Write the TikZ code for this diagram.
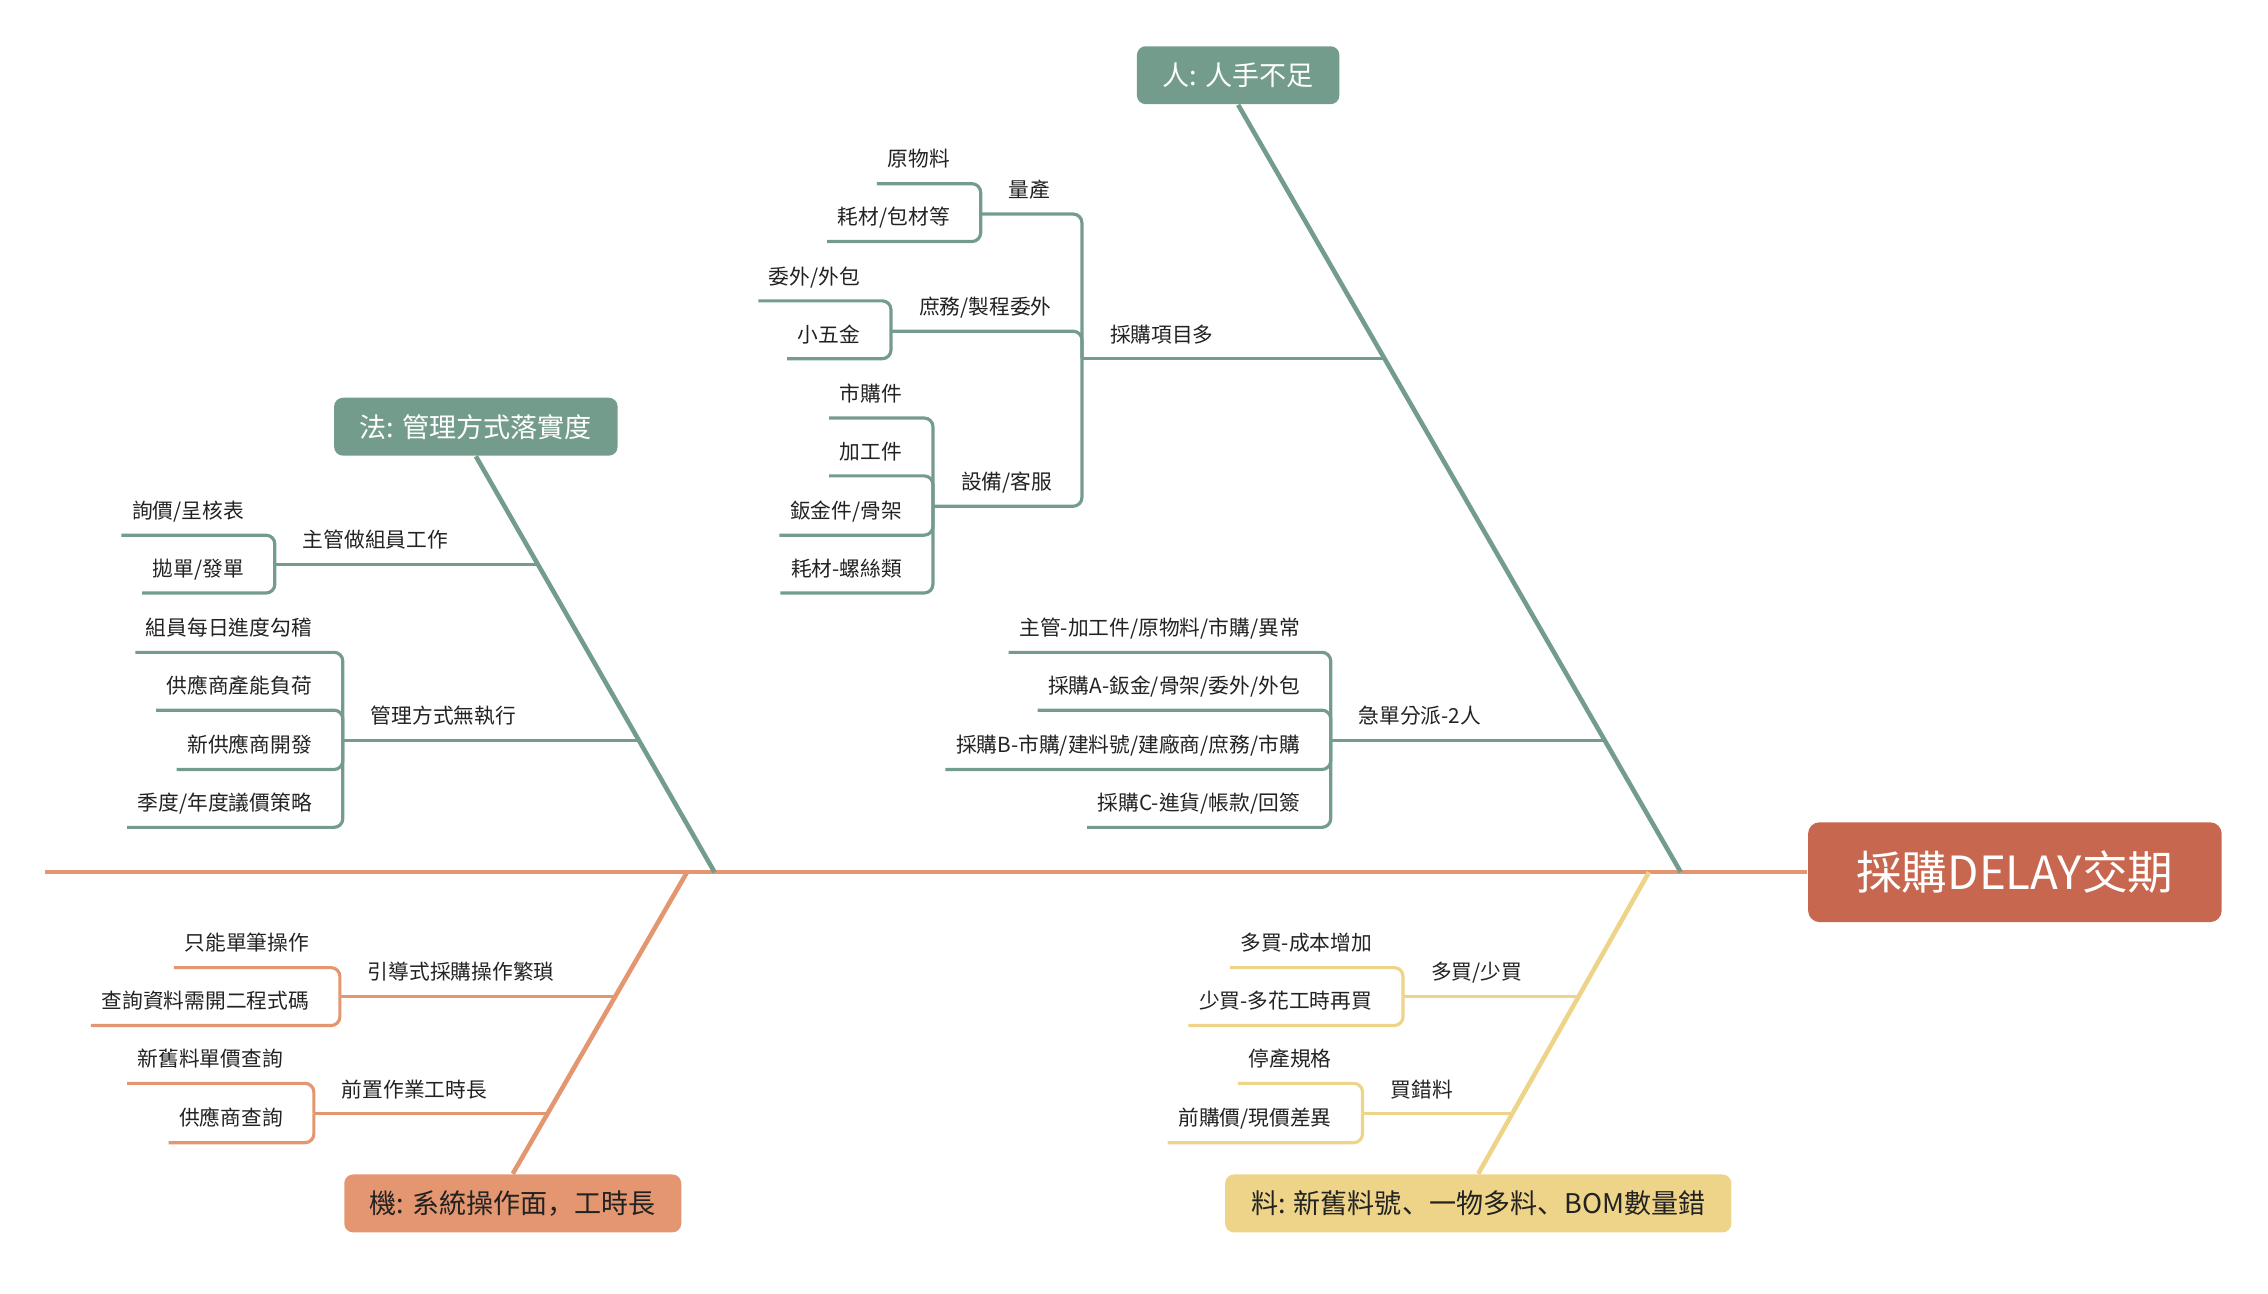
\documentclass[tikz,border=0pt]{standalone}
\usepackage{fontspec}
\setmainfont{Noto Sans CJK TC}
\newfontfamily\punctfont{Noto Sans CJK SC}
\definecolor{grn}{HTML}{749C8C}
\definecolor{headred}{HTML}{C8674F}
\definecolor{org}{HTML}{E3966F}
\definecolor{yel}{HTML}{EED488}
\definecolor{ink}{HTML}{222222}
\begin{document}
\begin{tikzpicture}[x=0.014464cm, y=-0.014464cm,
        cat/.style={rounded corners=2.5pt, minimum height=0.579cm, inner sep=0pt, font=\fontsize{7.7}{9}\selectfont},
        lbl/.style={inner xsep=0.1cm, inner ysep=0.16cm, text depth=0pt, text=ink, font=\fontsize{5.9}{7}\selectfont},
        bone/.style={line width=1.3pt},
        sub/.style={line width=0.9pt, rounded corners=2.5pt}]
    \useasboundingbox (0,0) rectangle (1568,894);

    \node[fill=headred, text=white, rounded corners=3.3pt, minimum width=4.137cm, minimum height=0.998cm,
        font=\fontsize{13}{15}\selectfont] (head) at (1393,603) {採購DELAY交期};
    \node[cat, fill=grn, text=white, minimum width=2.025cm] (ren) at (856,52) {人: 人手不足};
    \node[cat, fill=grn, text=white, minimum width=2.835cm] (fa) at (329,295) {法: 管理方式落實度};
    \node[cat, fill=org, text=ink, minimum width=3.370cm] (ji) at (354.5,832) {機: 系統操作面{\punctfont ，}工時長};
    \node[cat, fill=yel, text=ink, minimum width=5.062cm] (liao) at (1022,832) {料: 新舊料號{\punctfont 、}一物多料{\punctfont 、}BOM數量錯};

    \coordinate (tail) at (31,603);
    \coordinate (ren-e) at (1162,603);
    \coordinate (fa-e) at (494,603);
    \coordinate (ji-e) at (475,603);
    \coordinate (liao-e) at (1140,603);
    \draw[org, line width=1.3pt] (tail) -- (head.west);
    \draw[grn, bone] (ren.south) -- (ren-e);
    \draw[grn, bone] (fa.south) -- (fa-e);
    \draw[org, bone] (ji-e) -- (ji.north);
    \draw[yel, bone] (liao-e) -- (liao.north);

    \coordinate (buy-j) at (748,248);
    \coordinate (buy-b) at (957.4,248);
    \coordinate (qty-j) at (678,148);
    \coordinate (misc-j) at (616,229);
    \coordinate (equip-j) at (645,350);
    \coordinate (rush-j) at (920,512);
    \coordinate (rush-b) at (1109.6,512);
    \node[lbl, anchor=south west] (buy) at (760,248) {採購項目多};
    \node[lbl, anchor=south west] (qty) at (690,148) {量產};
    \node[lbl, anchor=south west] (misc) at (628,229) {庶務/製程委外};
    \node[lbl, anchor=south west] (equip) at (657,350) {設備/客服};
    \node[lbl, anchor=south west] (rush) at (932,512) {急單分派-2人};
    \node[lbl, anchor=south east] (raw) at (664,127) {原物料};
    \node[lbl, anchor=south east] (pack) at (664,167) {耗材/包材等};
    \node[lbl, anchor=south east] (outs) at (602,208) {委外/外包};
    \node[lbl, anchor=south east] (hw) at (602,248) {小五金};
    \node[lbl, anchor=south east] (mkt) at (631,289) {市購件};
    \node[lbl, anchor=south east] (mach) at (631,329) {加工件};
    \node[lbl, anchor=south east] (sheet) at (631,370) {鈑金件/骨架};
    \node[lbl, anchor=south east] (screw) at (631,410) {耗材-螺絲類};
    \node[lbl, anchor=south east] (boss) at (906,451) {主管-加工件/原物料/市購/異常};
    \node[lbl, anchor=south east] (buya) at (906,491) {採購A-鈑金/骨架/委外/外包};
    \node[lbl, anchor=south east] (buyb) at (906,532) {採購B-市購/建料號/建廠商/庶務/市購};
    \node[lbl, anchor=south east] (buyc) at (906,572) {採購C-進貨/帳款/回簽};
    \draw[grn, sub] (buy-j) -- (buy-b);
    \draw[grn, sub] (buy-j) |- (qty-j);
    \draw[grn, sub] (buy-j) |- (misc-j);
    \draw[grn, sub] (buy-j) |- (equip-j);
    \draw[grn, sub] (qty-j) |- (raw.south west);
    \draw[grn, sub] (qty-j) |- (pack.south west);
    \draw[grn, sub] (misc-j) |- (outs.south west);
    \draw[grn, sub] (misc-j) |- (hw.south west);
    \draw[grn, sub] (equip-j) |- (mkt.south west);
    \draw[grn, sub] (equip-j) |- (mach.south west);
    \draw[grn, sub] (equip-j) |- (sheet.south west);
    \draw[grn, sub] (equip-j) |- (screw.south west);
    \draw[grn, sub] (rush-j) -- (rush-b);
    \draw[grn, sub] (rush-j) |- (boss.south west);
    \draw[grn, sub] (rush-j) |- (buya.south west);
    \draw[grn, sub] (rush-j) |- (buyb.south west);
    \draw[grn, sub] (rush-j) |- (buyc.south west);

    \coordinate (lead-j) at (190,390);
    \coordinate (lead-b) at (372,390);
    \coordinate (mgmt-j) at (237,512);
    \coordinate (mgmt-b) at (441.9,512);
    \node[lbl, anchor=south west] (lead) at (202,390) {主管做組員工作};
    \node[lbl, anchor=south west] (mgmt) at (249,512) {管理方式無執行};
    \node[lbl, anchor=south east] (quote) at (176,370) {詢價/呈核表};
    \node[lbl, anchor=south east] (order) at (176,410) {拋單/發單};
    \node[lbl, anchor=south east] (daily) at (223,451) {組員每日進度勾稽};
    \node[lbl, anchor=south east] (load) at (223,491) {供應商產能負荷};
    \node[lbl, anchor=south east] (newsup) at (223,532) {新供應商開發};
    \node[lbl, anchor=south east] (quarter) at (223,572) {季度/年度議價策略};
    \draw[grn, sub] (lead-j) -- (lead-b);
    \draw[grn, sub] (lead-j) |- (quote.south west);
    \draw[grn, sub] (lead-j) |- (order.south west);
    \draw[grn, sub] (mgmt-j) -- (mgmt-b);
    \draw[grn, sub] (mgmt-j) |- (daily.south west);
    \draw[grn, sub] (mgmt-j) |- (load.south west);
    \draw[grn, sub] (mgmt-j) |- (newsup.south west);
    \draw[grn, sub] (mgmt-j) |- (quarter.south west);

    \coordinate (guide-j) at (235,689);
    \coordinate (guide-b) at (425.4,689);
    \coordinate (prep-j) at (217,770);
    \coordinate (prep-b) at (378.7,770);
    \node[lbl, anchor=south west] (guide) at (247,689) {引導式採購操作繁瑣};
    \node[lbl, anchor=south west] (prep) at (229,770) {前置作業工時長};
    \node[lbl, anchor=south east] (single) at (221,669) {只能單筆操作};
    \node[lbl, anchor=south east] (query) at (221,709) {查詢資料需開二程式碼};
    \node[lbl, anchor=south east] (price) at (203,749) {新舊料單價查詢};
    \node[lbl, anchor=south east] (supq) at (203,790) {供應商查詢};
    \draw[org, sub] (guide-j) -- (guide-b);
    \draw[org, sub] (guide-j) |- (single.south west);
    \draw[org, sub] (guide-j) |- (query.south west);
    \draw[org, sub] (prep-j) -- (prep-b);
    \draw[org, sub] (prep-j) |- (price.south west);
    \draw[org, sub] (prep-j) |- (supq.south west);

    \coordinate (more-j) at (970,689);
    \coordinate (more-b) at (1091.4,689);
    \coordinate (wrong-j) at (942,770);
    \coordinate (wrong-b) at (1045.7,770);
    \node[lbl, anchor=south west] (more) at (982,689) {多買/少買};
    \node[lbl, anchor=south west] (wrong) at (954,770) {買錯料};
    \node[lbl, anchor=south east] (over) at (956,669) {多買-成本增加};
    \node[lbl, anchor=south east] (under) at (956,709) {少買-多花工時再買};
    \node[lbl, anchor=south east] (eol) at (928,749) {停產規格};
    \node[lbl, anchor=south east] (diff) at (928,790) {前購價/現價差異};
    \draw[yel, sub] (more-j) -- (more-b);
    \draw[yel, sub] (more-j) |- (over.south west);
    \draw[yel, sub] (more-j) |- (under.south west);
    \draw[yel, sub] (wrong-j) -- (wrong-b);
    \draw[yel, sub] (wrong-j) |- (eol.south west);
    \draw[yel, sub] (wrong-j) |- (diff.south west);
\end{tikzpicture}
\end{document}
